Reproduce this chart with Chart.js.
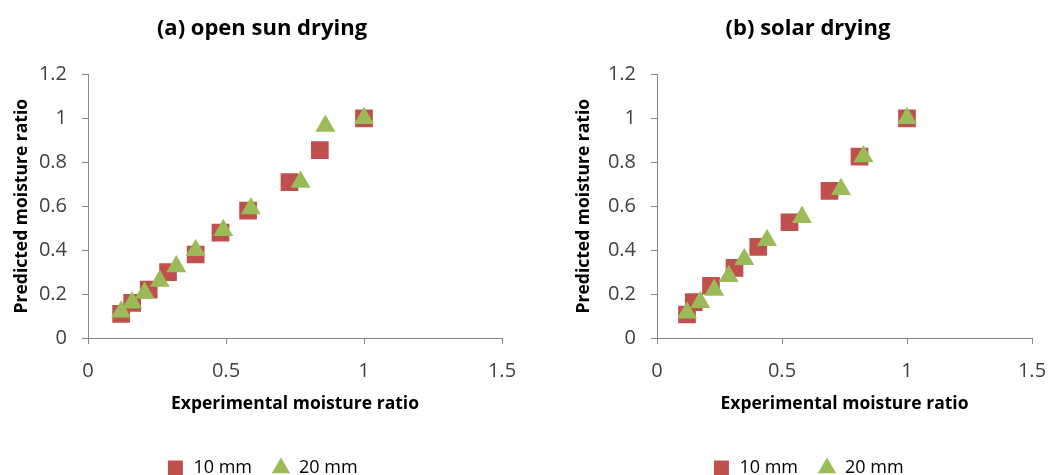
<!DOCTYPE html>
<html>
<head>
<meta charset="utf-8">
<script src="https://cdn.jsdelivr.net/npm/chart.js@4/dist/chart.umd.min.js"></script>
<style>
  html, body { margin: 0; padding: 0; background: #fff; }
  body { width: 1049px; height: 475px; position: relative; overflow: hidden; }
  canvas { position: absolute; top: 0; }
  #chartOpen { left: 0; }
  #chartSolar { left: 524px; }
</style>
</head>
<body>
<canvas id="chartOpen" width="524" height="475"></canvas>
<canvas id="chartSolar" width="525" height="475"></canvas>
<script>
const SERIES_LABELS = ['10 mm', '20 mm'];
const X_TICKS = [0, 0.5, 1, 1.5];
const Y_TICKS = [0, 0.2, 0.4, 0.6, 0.8, 1, 1.2];

// (a) open sun drying
const openExp10 = [0.12, 0.16, 0.22, 0.29, 0.39, 0.48, 0.58, 0.73, 0.84, 1.0];
const openPred10 = [0.11, 0.16, 0.22, 0.30, 0.38, 0.48, 0.58, 0.71, 0.855, 1.0];
const openExp20 = [0.12, 0.16, 0.205, 0.26, 0.32, 0.39, 0.49, 0.59, 0.77, 0.86, 1.0];
const openPred20 = [0.12, 0.16, 0.205, 0.26, 0.325, 0.40, 0.49, 0.59, 0.71, 0.965, 1.0];

// (b) solar drying
const solarExp10 = [0.12, 0.147, 0.216, 0.31, 0.405, 0.53, 0.69, 0.81, 1.0];
const solarPred10 = [0.107, 0.163, 0.238, 0.319, 0.415, 0.527, 0.67, 0.826, 1.0];
const solarExp20 = [0.12, 0.173, 0.229, 0.287, 0.349, 0.44, 0.58, 0.736, 0.826, 1.0];
const solarPred20 = [0.115, 0.163, 0.219, 0.281, 0.358, 0.445, 0.55, 0.677, 0.826, 1.0];

const RED = '#C0504D';
const GREEN = '#9BBB59';
const AXIS = '#868686';
const FONT = '"Open Sans", Lato, sans-serif';

function toPoints(xs, ys) {
  return xs.map((x, i) => ({ x, y: ys[i] }));
}

function makeChart(canvasId, title, exp10, pred10, exp20, pred20, pad, yWidth) {
  return new Chart(document.getElementById(canvasId), {
    type: 'scatter',
    data: {
      datasets: [
        {
          label: SERIES_LABELS[0],
          data: toPoints(exp10, pred10),
          pointStyle: 'rect',
          pointRadius: 12.5,
          backgroundColor: RED,
          borderColor: RED,
          borderWidth: 0,
          order: 1,
        },
        {
          label: SERIES_LABELS[1],
          data: toPoints(exp20, pred20),
          pointStyle: 'triangle',
          pointRadius: 11.5,
          backgroundColor: GREEN,
          borderColor: GREEN,
          borderWidth: 0,
          order: 0,
        },
      ],
    },
    options: {
      responsive: false,
      animation: false,
      events: [],
      layout: { padding: { left: pad.left, right: pad.right, top: 0, bottom: -12 } },
      scales: {
        x: {
          type: 'linear',
          min: X_TICKS[0],
          max: X_TICKS[X_TICKS.length - 1],
          afterBuildTicks(scale) { scale.ticks = X_TICKS.map((v) => ({ value: v })); },
          afterFit(scale) {
            scale.height = 101;
            scale.paddingLeft = 0;
            scale.paddingRight = 0;
          },
          ticks: {
            color: '#404040',
            padding: 15,
            font: { family: FONT, size: 20 },
            callback: (v) => String(v),
          },
          grid: { display: true, drawOnChartArea: false, drawTicks: true, tickLength: 6, color: AXIS },
          border: { display: true, color: AXIS, width: 1 },
          title: {
            display: true,
            text: 'Experimental moisture ratio',
            color: '#000',
            font: { family: FONT, size: 17.5, weight: 'bold' },
            padding: { top: 0, bottom: 24 },
          },
        },
        y: {
          type: 'linear',
          min: Y_TICKS[0],
          max: Y_TICKS[Y_TICKS.length - 1],
          afterBuildTicks(scale) { scale.ticks = Y_TICKS.map((v) => ({ value: v })); },
          afterFit(scale) { scale.width = yWidth; },
          ticks: {
            color: '#404040',
            padding: 15,
            font: { family: FONT, size: 20 },
            callback: (v) => String(v),
          },
          grid: { display: true, drawOnChartArea: false, drawTicks: true, tickLength: 6, color: AXIS },
          border: { display: true, color: AXIS, width: 1 },
          title: {
            display: true,
            text: 'Predicted moisture ratio',
            color: '#000',
            font: { family: FONT, size: 17.5, weight: 'bold' },
            padding: { top: -10, bottom: 0 },
          },
        },
      },
      plugins: {
        title: {
          display: true,
          text: title,
          color: '#000',
          font: { family: FONT, size: 22, weight: 'bold' },
          padding: { top: 16, bottom: 32 },
        },
        legend: {
          position: 'bottom',
          labels: {
            usePointStyle: true,
            boxHeight: 15,
            padding: 20,
            color: '#000',
            font: { family: FONT, size: 18 },
            sort: (a, b) => a.datasetIndex - b.datasetIndex,
          },
        },
        tooltip: { enabled: false },
      },
    },
  });
}

makeChart('chartOpen', '(a) open sun drying', openExp10, openPred10, openExp20, openPred20,
  { left: 22, right: 22 }, 66);
makeChart('chartSolar', '(b) solar drying', solarExp10, solarPred10, solarExp20, solarPred20,
  { left: 60, right: 17 }, 73);
</script>
</body>
</html>
